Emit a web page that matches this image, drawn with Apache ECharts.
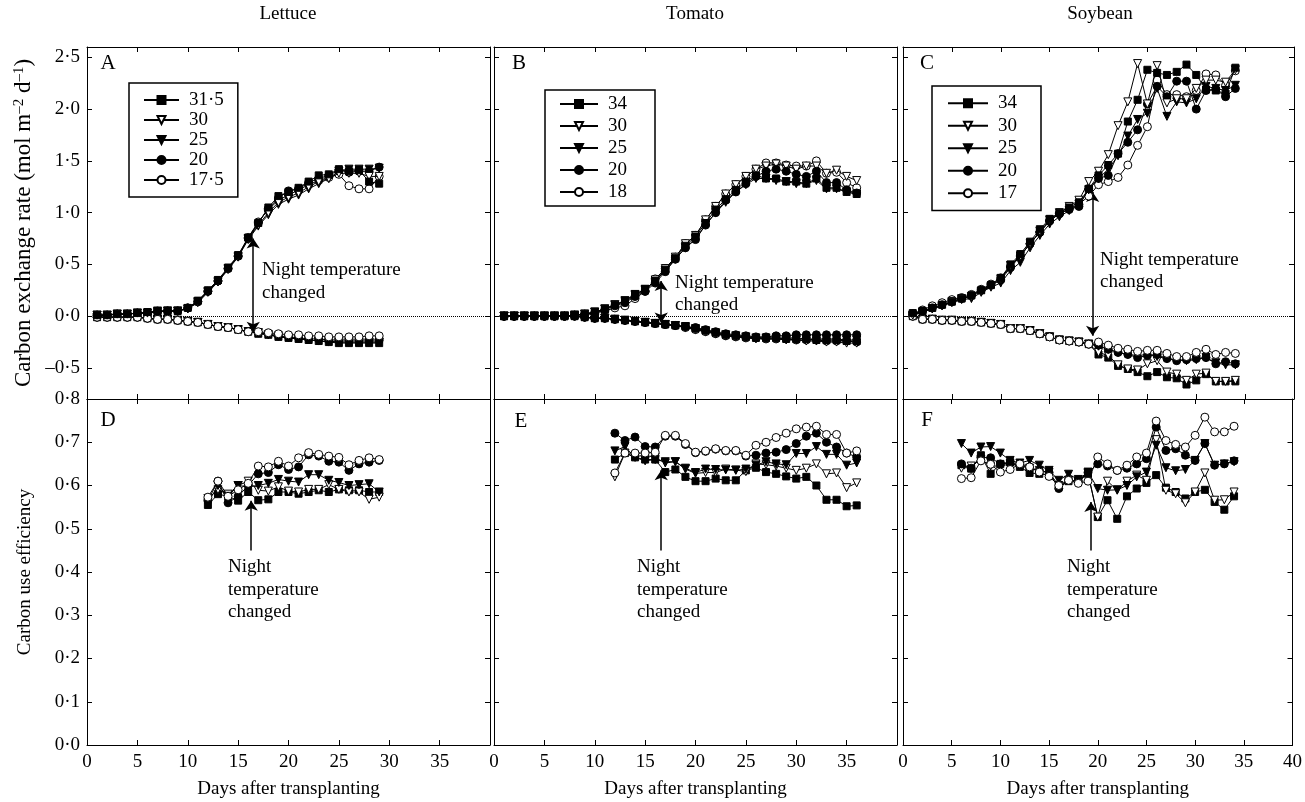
<!DOCTYPE html>
<html>
<head>
<meta charset="utf-8">
<script src="https://cdn.jsdelivr.net/npm/echarts@6/dist/echarts.min.js"></script>
<style>
html, body { margin: 0; padding: 0; background: #fff; }
#chart { width: 1305px; height: 802px; }
</style>
</head>
<body>
<div id="chart"></div>
<script>
// ---- days ----
const lettuceDays = [1,2,3,4,5,6,7,8,9,10,11,12,13,14,15,16,17,18,19,20,21,22,23,24,25,26,27,28,29];
const tomatoDays = [1,2,3,4,5,6,7,8,9,10,11,12,13,14,15,16,17,18,19,20,21,22,23,24,25,26,27,28,29,30,31,32,33,34,35,36];
const soyDays = [1,2,3,4,5,6,7,8,9,10,11,12,13,14,15,16,17,18,19,20,21,22,23,24,25,26,27,28,29,30,31,32,33,34];
const lettuceCueDays = [12,13,14,15,16,17,18,19,20,21,22,23,24,25,26,27,28,29];
const tomatoCueDays = [12,13,14,15,16,17,18,19,20,21,22,23,24,25,26,27,28,29,30,31,32,33,34,35,36];
const soyCueDays = [6,7,8,9,10,11,12,13,14,15,16,17,18,19,20,21,22,23,24,25,26,27,28,29,30,31,32,33,34];

// ---- legend labels (night temperature, C) ----
const lettuceTemps = ['31·5', '30', '25', '20', '17·5'];
const tomatoTemps = ['34', '30', '25', '20', '18'];
const soyTemps = ['34', '30', '25', '20', '17'];

// ---- lettuce, carbon exchange rate ----
const lettPos315 = [0.01,0.01,0.02,0.02,0.03,0.04,0.05,0.05,0.05,0.08,0.15,0.25,0.35,0.47,0.59,0.76,0.90,1.05,1.16,1.20,1.24,1.30,1.36,1.37,1.42,1.40,1.41,1.30,1.28];
const lettPos30 = [0.01,0.01,0.02,0.02,0.03,0.03,0.04,0.05,0.05,0.07,0.14,0.24,0.34,0.46,0.58,0.75,0.88,1.00,1.10,1.15,1.19,1.25,1.30,1.33,1.38,1.38,1.38,1.35,1.35];
const lettPos25 = [0.01,0.01,0.02,0.02,0.03,0.03,0.05,0.05,0.05,0.07,0.13,0.23,0.33,0.45,0.57,0.74,0.87,0.98,1.08,1.13,1.17,1.23,1.28,1.33,1.40,1.42,1.42,1.42,1.43];
const lettPos20 = [0.01,0.01,0.02,0.02,0.03,0.03,0.05,0.05,0.05,0.08,0.14,0.24,0.34,0.46,0.58,0.75,0.90,1.04,1.14,1.21,1.23,1.29,1.33,1.36,1.41,1.39,1.40,1.40,1.44];
const lettPos175 = [0.01,0.01,0.02,0.02,0.03,0.03,0.04,0.05,0.05,0.08,0.14,0.24,0.34,0.46,0.58,0.76,0.91,1.03,1.12,1.17,1.22,1.27,1.31,1.34,1.37,1.26,1.23,1.23,1.35];
const lettNeg315 = [-0.01,-0.01,-0.01,-0.01,-0.01,-0.02,-0.03,-0.03,-0.04,-0.05,-0.06,-0.08,-0.10,-0.11,-0.13,-0.15,-0.17,-0.18,-0.20,-0.21,-0.22,-0.23,-0.24,-0.25,-0.26,-0.26,-0.26,-0.26,-0.26];
const lettNeg30 = [-0.01,-0.01,-0.01,-0.01,-0.01,-0.02,-0.03,-0.03,-0.04,-0.05,-0.06,-0.08,-0.10,-0.11,-0.13,-0.15,-0.16,-0.18,-0.20,-0.21,-0.22,-0.23,-0.24,-0.25,-0.25,-0.25,-0.25,-0.25,-0.25];
const lettNeg25 = [-0.01,-0.01,-0.01,-0.01,-0.01,-0.02,-0.03,-0.03,-0.04,-0.05,-0.06,-0.08,-0.10,-0.11,-0.13,-0.15,-0.16,-0.18,-0.19,-0.21,-0.22,-0.23,-0.24,-0.24,-0.25,-0.25,-0.25,-0.25,-0.25];
const lettNeg20 = [-0.01,-0.01,-0.01,-0.01,-0.01,-0.02,-0.03,-0.03,-0.04,-0.05,-0.06,-0.08,-0.10,-0.11,-0.13,-0.15,-0.16,-0.17,-0.19,-0.20,-0.21,-0.22,-0.22,-0.23,-0.23,-0.23,-0.23,-0.23,-0.23];
const lettNeg175 = [-0.01,-0.01,-0.01,-0.01,-0.01,-0.02,-0.03,-0.03,-0.04,-0.05,-0.06,-0.08,-0.10,-0.11,-0.13,-0.15,-0.15,-0.16,-0.17,-0.18,-0.18,-0.19,-0.19,-0.20,-0.20,-0.20,-0.20,-0.19,-0.19];

// ---- tomato, carbon exchange rate ----
const tomPos34 = [0,0,0,0,0,0,0,0.01,0.02,0.04,0.07,0.11,0.15,0.21,0.26,0.34,0.45,0.56,0.68,0.77,0.90,1.03,1.13,1.22,1.30,1.36,1.33,1.33,1.30,1.30,1.28,1.33,1.24,1.24,1.20,1.18];
const tomPos30 = [0,0,0,0,0,0,0,0.01,0.02,0.04,0.07,0.11,0.14,0.20,0.25,0.35,0.46,0.57,0.70,0.78,0.93,1.06,1.18,1.27,1.35,1.42,1.45,1.47,1.45,1.42,1.45,1.45,1.38,1.41,1.35,1.31];
const tomPos25 = [0,0,0,0,0,0,0,0.01,0.02,0.04,0.07,0.11,0.15,0.21,0.26,0.34,0.44,0.55,0.66,0.75,0.88,1.00,1.10,1.20,1.27,1.33,1.33,1.31,1.30,1.28,1.28,1.31,1.23,1.23,1.20,1.18];
const tomPos20 = [0,0,0,0,0,0,0,0.01,0.01,0.03,0.06,0.10,0.13,0.19,0.24,0.32,0.43,0.55,0.66,0.74,0.88,1.00,1.12,1.20,1.28,1.35,1.40,1.42,1.40,1.37,1.35,1.40,1.29,1.29,1.22,1.19];
const tomPos18 = [0,0,0,0,0,0,0,0.01,0.02,0.03,0.05,0.08,0.10,0.17,0.24,0.36,0.46,0.57,0.70,0.78,0.93,1.06,1.18,1.27,1.35,1.42,1.48,1.48,1.46,1.45,1.45,1.50,1.38,1.39,1.29,1.24];
const tomNeg34 = [0,0,0,0,0,0,0,0,-0.01,-0.02,-0.02,-0.03,-0.04,-0.05,-0.06,-0.07,-0.08,-0.09,-0.10,-0.12,-0.14,-0.16,-0.18,-0.19,-0.20,-0.21,-0.21,-0.21,-0.22,-0.22,-0.22,-0.23,-0.23,-0.23,-0.24,-0.24];
const tomNeg30 = [0,0,0,0,0,0,0,0,-0.01,-0.02,-0.02,-0.03,-0.04,-0.05,-0.06,-0.07,-0.08,-0.09,-0.11,-0.13,-0.15,-0.17,-0.19,-0.20,-0.21,-0.22,-0.22,-0.22,-0.23,-0.23,-0.24,-0.24,-0.25,-0.25,-0.26,-0.26];
const tomNeg25 = [0,0,0,0,0,0,0,0,-0.01,-0.02,-0.02,-0.03,-0.04,-0.05,-0.06,-0.07,-0.08,-0.09,-0.10,-0.12,-0.14,-0.16,-0.18,-0.19,-0.20,-0.21,-0.21,-0.21,-0.21,-0.21,-0.22,-0.22,-0.22,-0.22,-0.23,-0.23];
const tomNeg20 = [0,0,0,0,0,0,0,0,-0.01,-0.02,-0.02,-0.03,-0.04,-0.05,-0.06,-0.07,-0.08,-0.09,-0.10,-0.11,-0.13,-0.15,-0.17,-0.18,-0.19,-0.20,-0.20,-0.19,-0.19,-0.18,-0.18,-0.18,-0.18,-0.18,-0.18,-0.18];
const tomNeg18 = [0,0,0,0,0,0,0,0,-0.01,-0.02,-0.02,-0.03,-0.04,-0.05,-0.06,-0.07,-0.08,-0.09,-0.11,-0.13,-0.15,-0.17,-0.19,-0.20,-0.21,-0.21,-0.22,-0.22,-0.22,-0.23,-0.23,-0.23,-0.24,-0.24,-0.24,-0.25];

// ---- soybean, carbon exchange rate ----
const soyPos34 = [0.03,0.05,0.08,0.11,0.14,0.17,0.20,0.25,0.30,0.37,0.50,0.60,0.72,0.84,0.94,1.00,1.05,1.10,1.23,1.36,1.46,1.57,1.88,2.09,2.38,2.35,2.33,2.36,2.43,2.33,2.19,2.18,2.15,2.40];
const soyPos30 = [0.01,0.04,0.07,0.10,0.14,0.17,0.19,0.24,0.29,0.36,0.49,0.58,0.70,0.82,0.93,1.00,1.06,1.12,1.30,1.40,1.56,1.84,2.07,2.44,2.05,2.42,2.06,2.10,2.10,2.20,2.28,2.28,2.26,2.38];
const soyPos25 = [0.01,0.04,0.07,0.10,0.13,0.16,0.17,0.23,0.28,0.32,0.44,0.52,0.66,0.78,0.89,0.96,1.02,1.08,1.22,1.33,1.42,1.55,1.74,1.90,1.96,2.20,1.93,2.07,2.06,2.10,2.22,2.20,2.18,2.23];
const soyPos20 = [0.02,0.05,0.08,0.11,0.14,0.17,0.20,0.25,0.30,0.35,0.47,0.58,0.70,0.81,0.92,0.99,1.03,1.06,1.23,1.33,1.36,1.57,1.68,1.80,2.05,2.22,2.12,2.27,2.27,2.00,2.18,2.19,2.12,2.20];
const soyPos17 = [0.02,0.06,0.10,0.13,0.16,0.18,0.21,0.26,0.31,0.37,0.48,0.59,0.70,0.81,0.92,0.99,1.04,1.08,1.16,1.27,1.30,1.34,1.46,1.65,1.83,2.28,2.14,2.14,2.12,2.18,2.34,2.33,2.23,2.37];
const soyNeg34 = [0,-0.03,-0.03,-0.04,-0.04,-0.05,-0.05,-0.06,-0.07,-0.08,-0.12,-0.12,-0.14,-0.17,-0.20,-0.23,-0.24,-0.25,-0.27,-0.37,-0.40,-0.48,-0.51,-0.54,-0.58,-0.54,-0.59,-0.60,-0.66,-0.62,-0.56,-0.63,-0.63,-0.63];
const soyNeg30 = [0,-0.03,-0.03,-0.04,-0.04,-0.05,-0.05,-0.06,-0.07,-0.08,-0.12,-0.12,-0.14,-0.17,-0.20,-0.23,-0.24,-0.25,-0.27,-0.35,-0.38,-0.47,-0.51,-0.52,-0.46,-0.43,-0.54,-0.56,-0.62,-0.56,-0.55,-0.63,-0.63,-0.62];
const soyNeg25 = [0,-0.03,-0.03,-0.04,-0.04,-0.05,-0.05,-0.06,-0.07,-0.08,-0.12,-0.12,-0.14,-0.17,-0.20,-0.23,-0.24,-0.25,-0.27,-0.29,-0.32,-0.35,-0.37,-0.38,-0.37,-0.39,-0.41,-0.42,-0.43,-0.42,-0.40,-0.45,-0.47,-0.47];
const soyNeg20 = [0,-0.03,-0.03,-0.04,-0.04,-0.05,-0.05,-0.06,-0.07,-0.08,-0.12,-0.12,-0.14,-0.17,-0.20,-0.23,-0.24,-0.25,-0.27,-0.28,-0.32,-0.35,-0.37,-0.40,-0.38,-0.37,-0.41,-0.43,-0.42,-0.41,-0.40,-0.46,-0.44,-0.46];
const soyNeg17 = [0,-0.03,-0.03,-0.04,-0.04,-0.05,-0.05,-0.06,-0.07,-0.08,-0.12,-0.12,-0.14,-0.17,-0.20,-0.23,-0.24,-0.25,-0.27,-0.25,-0.28,-0.31,-0.32,-0.34,-0.33,-0.33,-0.36,-0.39,-0.39,-0.35,-0.32,-0.37,-0.35,-0.36];

// ---- carbon use efficiency ----
const lettCue315 = [0.555,0.58,0.575,0.565,0.585,0.566,0.568,0.585,0.585,0.581,0.585,0.589,0.585,0.591,0.589,0.589,0.585,0.585];
const lettCue30 = [0.57,0.59,0.58,0.60,0.61,0.589,0.587,0.597,0.587,0.585,0.591,0.591,0.602,0.591,0.585,0.585,0.568,0.573];
const lettCue25 = [0.56,0.60,0.575,0.60,0.597,0.60,0.605,0.614,0.61,0.608,0.625,0.625,0.612,0.607,0.60,0.602,0.604,0.585];
const lettCue20 = [0.565,0.61,0.56,0.575,0.60,0.627,0.63,0.648,0.637,0.643,0.671,0.668,0.656,0.654,0.635,0.65,0.654,0.658];
const lettCue175 = [0.573,0.61,0.575,0.59,0.605,0.645,0.643,0.656,0.645,0.664,0.676,0.672,0.668,0.665,0.648,0.658,0.664,0.66];

const tomCue34 = [0.66,0.675,0.665,0.66,0.66,0.631,0.637,0.62,0.61,0.61,0.616,0.612,0.612,0.635,0.641,0.631,0.627,0.621,0.616,0.62,0.60,0.567,0.567,0.552,0.554];
const tomCue30 = [0.62,0.675,0.667,0.67,0.665,0.652,0.655,0.638,0.628,0.63,0.63,0.638,0.636,0.632,0.65,0.648,0.645,0.64,0.635,0.64,0.65,0.627,0.629,0.595,0.606];
const tomCue25 = [0.68,0.69,0.665,0.657,0.66,0.655,0.655,0.64,0.63,0.638,0.637,0.636,0.635,0.638,0.647,0.655,0.65,0.648,0.674,0.674,0.69,0.672,0.672,0.647,0.652];
const tomCue20 = [0.721,0.704,0.712,0.69,0.689,0.714,0.714,0.695,0.676,0.679,0.684,0.68,0.68,0.668,0.67,0.675,0.677,0.683,0.697,0.714,0.721,0.70,0.689,0.675,0.666];
const tomCue18 = [0.629,0.675,0.675,0.675,0.677,0.716,0.716,0.697,0.677,0.68,0.685,0.681,0.681,0.67,0.693,0.70,0.711,0.721,0.731,0.735,0.737,0.718,0.718,0.675,0.68];

const soyCue34 = [0.647,0.639,0.67,0.627,0.65,0.654,0.643,0.629,0.627,0.624,0.598,0.61,0.612,0.627,0.527,0.566,0.523,0.575,0.593,0.606,0.624,0.595,0.585,0.57,0.585,0.59,0.562,0.544,0.575];
const soyCue30 = [0.64,0.645,0.66,0.645,0.645,0.65,0.645,0.64,0.635,0.63,0.60,0.612,0.608,0.628,0.527,0.61,0.589,0.61,0.624,0.612,0.706,0.589,0.581,0.56,0.585,0.629,0.566,0.567,0.585];
const soyCue25 = [0.697,0.675,0.689,0.69,0.675,0.658,0.652,0.658,0.647,0.635,0.612,0.626,0.614,0.631,0.593,0.589,0.59,0.60,0.62,0.631,0.693,0.641,0.634,0.637,0.658,0.697,0.647,0.65,0.655];
const soyCue20 = [0.65,0.64,0.665,0.664,0.65,0.652,0.648,0.64,0.635,0.63,0.593,0.612,0.61,0.63,0.65,0.645,0.635,0.64,0.65,0.662,0.735,0.681,0.685,0.67,0.658,0.697,0.647,0.65,0.657];
const soyCue17 = [0.616,0.618,0.657,0.649,0.631,0.637,0.65,0.643,0.631,0.621,0.60,0.612,0.605,0.61,0.666,0.65,0.635,0.647,0.666,0.675,0.749,0.704,0.695,0.689,0.716,0.758,0.724,0.724,0.737];

// ---- axis ticks ----
const cerTicks = [-0.5, 0, 0.5, 1, 1.5, 2, 2.5];

const FONT = 'Liberation Serif';
const chart = echarts.init(document.getElementById('chart'));

// one marker style per temperature rank (warmest first)
const marks = [
    { symbol: 'rect', size: 7, fill: '#000', rotate: 0 },
    { symbol: 'triangle', size: 8, fill: '#fff', rotate: 180 },
    { symbol: 'triangle', size: 8, fill: '#000', rotate: 180 },
    { symbol: 'circle', size: 8, fill: '#000', rotate: 0 },
    { symbol: 'circle', size: 8, fill: '#fff', rotate: 0 }
];

// which marker ends up on top differs between curves in the original
const squaresOnTop = r => 10 - r;
const openOnTop = r => 5 + r;
const filledCircleOnTop = r => (r === 3 ? 11 : 10 - r);

function line(name, rank, days, values, grid, zFn) {
    const m = marks[rank];
    return {
        type: 'line',
        name: name,
        xAxisIndex: grid * 2,
        yAxisIndex: grid * 2,
        data: days.map((d, i) => [d, values[i]]),
        symbol: m.symbol,
        symbolSize: m.size,
        symbolRotate: m.rotate,
        showAllSymbol: true,
        itemStyle: { color: m.fill, borderColor: '#000', borderWidth: 1 },
        lineStyle: { color: '#000', width: 1 },
        emphasis: { disabled: true },
        z: zFn(rank)
    };
}

function arrow(x, y1, y2, both) {
    return {
        silent: true,
        symbol: both ? ['arrow', 'arrow'] : ['none', 'arrow'],
        symbolSize: 10,
        label: { show: false },
        lineStyle: { color: '#000', width: 1.5, type: 'solid' },
        data: [[{ coord: [x, y1] }, { coord: [x, y2] }]]
    };
}

const zeroLine = {
    silent: true,
    symbol: 'none',
    label: { show: false },
    lineStyle: { color: '#000', width: 1, type: 'dotted' },
    data: [{ yAxis: 0 }]
};

const lefts = [87, 494, 903, 87, 494, 903];
const widths = [403, 403, 391, 403, 403, 391];
const grids = lefts.map((l, i) => ({
    left: l, width: widths[i],
    top: i < 3 ? 47 : 399,
    height: i < 3 ? 352 : 346
}));

const fmt = v => v.toFixed(1).replace('.', '·').replace('-', '–');
const tickStyle = { inside: true, length: 5, lineStyle: { color: '#000', width: 1 } };
const lineStyleAxis = { show: true, onZero: false, lineStyle: { color: '#000', width: 1 } };

const xAxes = [];
const yAxes = [];
grids.forEach((g, i) => {
    const bottomRow = i >= 3;
    xAxes.push({
        type: 'value', gridIndex: i, position: 'bottom', min: 0, max: 40, interval: 5,
        axisLine: lineStyleAxis, axisTick: tickStyle, splitLine: { show: false },
        axisLabel: {
            show: bottomRow, color: '#000', fontFamily: FONT, fontSize: 19, margin: 8,
            showMaxLabel: i === 5
        },
        name: bottomRow ? 'Days after transplanting' : '',
        nameLocation: 'middle', nameGap: 35,
        nameTextStyle: { color: '#000', fontFamily: FONT, fontSize: 19 }
    });
    xAxes.push({
        type: 'value', gridIndex: i, position: 'top', min: 0, max: 40, interval: 5,
        axisLine: lineStyleAxis, axisTick: tickStyle, splitLine: { show: false },
        axisLabel: { show: false }
    });
    const yBase = bottomRow
        ? { min: 0, max: 0.8, interval: 0.1 }
        : { min: -0.8, max: 2.6 };
    const tick = bottomRow ? tickStyle : Object.assign({ customValues: cerTicks }, tickStyle);
    yAxes.push(Object.assign({
        type: 'value', gridIndex: i, position: 'left',
        axisLine: lineStyleAxis, axisTick: tick, splitLine: { show: false },
        axisLabel: Object.assign({
            show: i === 0 || i === 3, color: '#000', fontFamily: FONT, fontSize: 19,
            margin: 7, formatter: fmt
        }, bottomRow ? {} : { customValues: cerTicks }),
        name: i === 0 ? 'Carbon exchange rate (mol m{sup|–2} d{sup|–1})'
            : (i === 3 ? 'Carbon use efficiency' : ''),
        nameLocation: 'middle', nameRotate: 90, nameGap: 52,
        nameTextStyle: {
            color: '#000', fontFamily: FONT, fontSize: i === 0 ? 23 : 19,
            rich: { sup: { fontSize: 15, fontFamily: FONT, color: '#000', verticalAlign: 'top', lineHeight: 14 } }
        }
    }, yBase));
    yAxes.push(Object.assign({
        type: 'value', gridIndex: i, position: 'right',
        axisLine: lineStyleAxis, axisTick: tick, splitLine: { show: false },
        axisLabel: { show: false }
    }, yBase));
});

const series = [];
[4, 3, 2, 1, 0].forEach(r => {
    series.push(line(lettuceTemps[r], r, lettuceDays, [lettPos315, lettPos30, lettPos25, lettPos20, lettPos175][r], 0, squaresOnTop));
    series.push(line(lettuceTemps[r], r, lettuceDays, [lettNeg315, lettNeg30, lettNeg25, lettNeg20, lettNeg175][r], 0, openOnTop));
    series.push(line(tomatoTemps[r], r, tomatoDays, [tomPos34, tomPos30, tomPos25, tomPos20, tomPos18][r], 1, filledCircleOnTop));
    series.push(line(tomatoTemps[r], r, tomatoDays, [tomNeg34, tomNeg30, tomNeg25, tomNeg20, tomNeg18][r], 1, filledCircleOnTop));
    series.push(line(soyTemps[r], r, soyDays, [soyPos34, soyPos30, soyPos25, soyPos20, soyPos17][r], 2, squaresOnTop));
    series.push(line(soyTemps[r], r, soyDays, [soyNeg34, soyNeg30, soyNeg25, soyNeg20, soyNeg17][r], 2, openOnTop));
    series.push(line(lettuceTemps[r], r, lettuceCueDays, [lettCue315, lettCue30, lettCue25, lettCue20, lettCue175][r], 3, openOnTop));
    series.push(line(tomatoTemps[r], r, tomatoCueDays, [tomCue34, tomCue30, tomCue25, tomCue20, tomCue18][r], 4, openOnTop));
    series.push(line(soyTemps[r], r, soyCueDays, [soyCue34, soyCue30, soyCue25, soyCue20, soyCue17][r], 5, openOnTop));
});
// series 0..8 are the coolest rank, one per panel slot; markers hang on them
series[0].markLine = arrow(16.5, 0.75, -0.15, true);
series[1].markLine = zeroLine;
series[2].markLine = arrow(16.6, 0.34, -0.06, true);
series[3].markLine = zeroLine;
series[4].markLine = arrow(19.4, 1.20, -0.19, true);
series[5].markLine = zeroLine;
series[6].markLine = arrow(16.3, 0.45, 0.565, false);
series[7].markLine = arrow(16.6, 0.45, 0.635, false);
series[8].markLine = arrow(19.3, 0.45, 0.562, false);

function legendBox(names, left, top, lh, pad, iw) {
    return {
        data: names, orient: 'vertical', left: left, top: top,
        padding: pad, itemWidth: iw, itemHeight: 10, itemGap: 0,
        selectedMode: false,
        borderColor: '#000', borderWidth: 1.5,
        textStyle: { color: '#000', fontFamily: FONT, fontSize: 19, lineHeight: lh, padding: [0, 0, 0, 5] }
    };
}

const txt = (text, x, y, extra) => ({
    type: 'text', x: x, y: y, silent: true,
    style: Object.assign({ text: text, fill: '#000', font: '19px "Liberation Serif"' }, extra || {})
});
const centered = { textAlign: 'center', textVerticalAlign: 'middle' };
const letterStyle = { textAlign: 'center', textVerticalAlign: 'middle', font: '21px "Liberation Serif"' };

const option = {
    animation: false,
    backgroundColor: '#fff',
    grid: grids,
    xAxis: xAxes,
    yAxis: yAxes,
    legend: [
        legendBox(lettuceTemps, 129, 83, 20, [7, 14, 7, 14], 35),
        legendBox(tomatoTemps, 545, 90, 22, [3, 28, 3, 14], 38),
        legendBox(soyTemps, 932, 86, 22.5, [6, 24, 6, 15], 40)
    ],
    series: series,
    graphic: [
        txt('Lettuce', 288, 14, centered),
        txt('Tomato', 695, 14, centered),
        txt('Soybean', 1100, 14, centered),
        txt('A', 108, 63, letterStyle),
        txt('B', 519, 63, letterStyle),
        txt('C', 927, 63, letterStyle),
        txt('D', 108, 420, letterStyle),
        txt('E', 521, 421, letterStyle),
        txt('F', 927, 420, letterStyle),
        txt('Night temperature\nchanged', 262, 259, { lineHeight: 23 }),
        txt('Night temperature\nchanged', 675, 272, { lineHeight: 22 }),
        txt('Night temperature\nchanged', 1100, 249, { lineHeight: 22 }),
        txt('Night\ntemperature\nchanged', 228, 556, { lineHeight: 22.5 }),
        txt('Night\ntemperature\nchanged', 637, 556, { lineHeight: 22.5 }),
        txt('Night\ntemperature\nchanged', 1067, 556, { lineHeight: 22.5 })
    ]
};

chart.setOption(option);
</script>
</body>
</html>
